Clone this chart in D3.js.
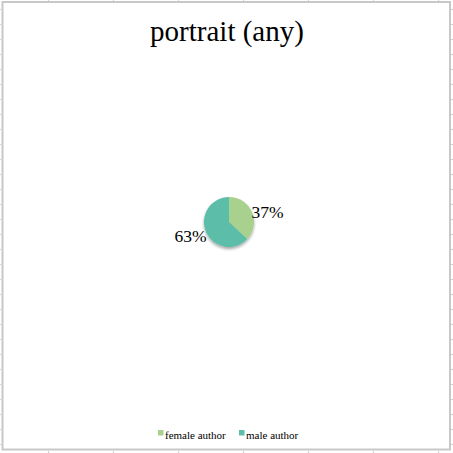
<!DOCTYPE html>
<html><head><meta charset="utf-8">
<script src="https://cdn.jsdelivr.net/npm/d3@7"></script>
<style>body{margin:0;background:#fff}svg{display:block}</style>
</head><body>
<svg id="c" width="453" height="453"></svg>
<script>
const title = "portrait (any)";
const categories = ["female author", "male author"];
const values = [37, 63];
const colors = ["#a9d18e", "#5bbda8"];

const svg = d3.select("#c");
const W = 453, H = 453;
const defs = svg.append("defs");
const f = defs.append("filter").attr("id","sh").attr("x","-50%").attr("y","-50%").attr("width","200%").attr("height","200%");
f.append("feGaussianBlur").attr("in","SourceAlpha").attr("stdDeviation",1.5).attr("result","b");
f.append("feOffset").attr("in","b").attr("dx",0).attr("dy",2).attr("result","o");
f.append("feComponentTransfer").attr("in","o").attr("result","o2").append("feFuncA").attr("type","linear").attr("slope",0.35);
const m = f.append("feMerge"); m.append("feMergeNode").attr("in","o2"); m.append("feMergeNode").attr("in","SourceGraphic");

// spreadsheet grid stubs outside frame
const g0 = svg.append("g").attr("stroke","#d0d0d0").attr("stroke-width",1);
d3.range(9, H, 15).forEach(y => { g0.append("line").attr("x1",0).attr("x2",1).attr("y1",y+0.5).attr("y2",y+0.5); g0.append("line").attr("x1",451).attr("x2",453).attr("y1",y+0.5).attr("y2",y+0.5); });
d3.range(48, W, 65).forEach(x => { g0.append("line").attr("y1",0).attr("y2",1).attr("x1",x+0.5).attr("x2",x+0.5); g0.append("line").attr("y1",451).attr("y2",453).attr("x1",x+0.5).attr("x2",x+0.5); });

// frame
svg.append("rect").attr("x",2.5).attr("y",2).attr("width",447.5).attr("height",447.5)
  .attr("fill","#fff").attr("stroke","#c8c8c8").attr("stroke-width",2);

svg.append("text").attr("x",227).attr("y",41).attr("text-anchor","middle")
  .attr("font-family","'Liberation Serif', serif").attr("font-size",29).attr("fill","#000").text(title);

const cx = 229, cy = 222, r = 25;
const pie = d3.pie().sort(null).value(d => d)(values);
const arc = d3.arc().innerRadius(0).outerRadius(r);
const gp = svg.append("g").attr("transform",`translate(${cx},${cy})`).attr("filter","url(#sh)");
gp.selectAll("path").data(pie).join("path").attr("d",arc).attr("fill",(d,i)=>colors[i]);

const lab = d3.arc().innerRadius(r+17).outerRadius(r+17);
const dy = [7, -3];
svg.append("g").attr("transform",`translate(${cx},${cy})`).selectAll("text").data(pie).join("text")
  .attr("x",d=>lab.centroid(d)[0]).attr("y",(d,i)=>lab.centroid(d)[1]+dy[i])
  .attr("text-anchor","middle").attr("dominant-baseline","central")
  .attr("font-family","'Liberation Serif', serif").attr("font-size",17.5).attr("fill","#000")
  .text(d=>d.value+"%");

const lx = [158, 239];
const lg = svg.append("g").attr("font-family","'Liberation Serif', serif").attr("font-size",11);
categories.forEach((c,i)=>{
  lg.append("rect").attr("x",lx[i]).attr("y",430).attr("width",5.5).attr("height",5.5).attr("fill",colors[i]);
  lg.append("text").attr("x",lx[i]+7).attr("y",438.5).attr("fill","#000").text(c);
});
</script>
</body></html>
